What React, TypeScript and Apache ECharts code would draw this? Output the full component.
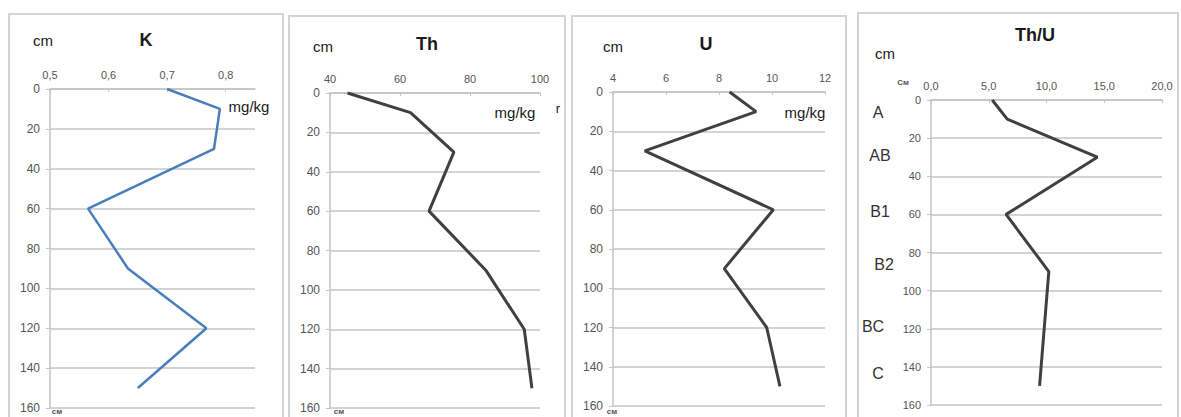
import React, { useEffect, useRef } from "react";
import * as echarts from "echarts";

const depths = [0, 10, 30, 60, 90, 120, 150];
const kValues = [0.7, 0.79, 0.78, 0.565, 0.633, 0.767, 0.65];
const thValues = [45, 63, 75.4, 68.3, 84.5, 95.5, 97.7];
const uValues = [8.4, 9.4, 5.2, 10.05, 8.2, 9.8, 10.3];
const thuValues = [5.3, 6.6, 14.4, 6.5, 10.2, 9.8, 9.4];
const depthTicks = { min: 0, max: 160, interval: 20 };
const horizons = ["A", "AB", "B1", "B2", "BC", "C"];
const titles = ["K", "Th", "U", "Th/U"];

const GRAY = "#c4c4c4";
const LABEL = "#555555";
const FONT = "Liberation Sans, Arial, sans-serif";

export default function App() {
  const ref = useRef<HTMLDivElement>(null);
  useEffect(() => {
    if (!ref.current) return;
    const chart = echarts.init(ref.current, null, { renderer: "svg" });

    const grids = [
      { left: 50, top: 89, width: 205, height: 319 },
      { left: 330, top: 93, width: 210, height: 315 },
      { left: 613, top: 92, width: 212, height: 314 },
      { left: 931, top: 100, width: 231, height: 305 },
    ];
    const xDefs = [
      { min: 0.5, max: 0.85, interval: 0.1, fmt: (v: number) => v.toFixed(1).replace(".", ",") },
      { min: 40, max: 100, interval: 20, fmt: (v: number) => String(v) },
      { min: 4, max: 12, interval: 2, fmt: (v: number) => String(v) },
      { min: 0, max: 20, interval: 5, fmt: (v: number) => v.toFixed(1).replace(".", ",") },
    ];
    const seriesValues = [kValues, thValues, uValues, thuValues];
    const colors = ["#4a7ebb", "#404040", "#404040", "#404040"];

    const xAxis = xDefs.map((d, i) => ({
      gridIndex: i,
      type: "value",
      position: "top",
      min: d.min,
      max: d.max,
      interval: d.interval,
      axisLine: { show: true, lineStyle: { color: GRAY, width: 1.5 } },
      axisTick: { show: true, inside: true, length: 3, lineStyle: { color: GRAY } },
      axisLabel: {
        color: LABEL,
        fontSize: 11,
        fontFamily: FONT,
        margin: 9,
        formatter: d.fmt,
        showMaxLabel: i === 0 ? false : true,
      },
      splitLine: { show: false },
    }));
    const yAxis = grids.map((_, i) => ({
      gridIndex: i,
      type: "value",
      inverse: true,
      min: depthTicks.min,
      max: depthTicks.max,
      interval: depthTicks.interval,
      axisLine: { show: true, lineStyle: { color: GRAY, width: 1.5 } },
      axisTick: { show: true, length: 4, lineStyle: { color: GRAY } },
      axisLabel: { color: LABEL, fontSize: i === 3 ? 11 : 12, fontFamily: FONT, margin: 10 },
      splitLine: { show: true, lineStyle: { color: GRAY, width: 1.5 } },
    }));
    const series = seriesValues.map((vals, i) => ({
      type: "line",
      xAxisIndex: i,
      yAxisIndex: i,
      data: vals.map((v, j) => [v, depths[j]]),
      showSymbol: false,
      symbol: "none",
      lineStyle: { color: colors[i], width: i === 0 ? 2.5 : 3 },
      silent: true,
    }));

    const panels = [
      { x: 9, y: 14, w: 274, h: 420 },
      { x: 289, y: 16, w: 276, h: 420 },
      { x: 572, y: 16, w: 274, h: 420 },
      { x: 858, y: 13, w: 320, h: 420 },
    ];
    const txt = (text: string, x: number, y: number, size: number, opts: any = {}) => ({
      type: "text",
      x,
      y,
      silent: true,
      style: {
        text,
        fontSize: size,
        fontFamily: FONT,
        fill: opts.fill || "#1a1a1a",
        fontWeight: opts.bold ? "bold" : "normal",
        textAlign: opts.align || "center",
        textVerticalAlign: "middle",
      },
    });
    const titlePos = [
      [146, 40],
      [427, 44],
      [706, 44],
      [1035, 35],
    ];
    const horizonPos = [
      [878, 112],
      [880, 155],
      [880, 211],
      [884, 264],
      [873, 326],
      [878, 373],
    ];
    const graphic: any[] = [
      ...panels.map((p) => ({
        type: "rect",
        shape: { x: p.x, y: p.y, width: p.w, height: p.h },
        silent: true,
        style: { fill: "none", stroke: "#d4d4d4", lineWidth: 2 },
      })),
      ...titles.map((t, i) => txt(t, titlePos[i][0], titlePos[i][1], 18, { bold: true })),
      txt("cm", 43, 40, 15),
      txt("cm", 323, 46, 15),
      txt("cm", 613, 46, 15),
      txt("cm", 885, 53, 15),
      txt("mg/kg", 249, 106, 15),
      txt("mg/kg", 515, 112, 15),
      txt("mg/kg", 805, 112, 15),
      txt("r", 558, 108, 13),
      txt("См", 903, 82, 8, { bold: true, fill: LABEL }),
      txt("см", 57, 411, 8, { bold: true, fill: LABEL }),
      txt("см", 339, 411, 8, { bold: true, fill: LABEL }),
      txt("см", 612, 411, 8, { bold: true, fill: LABEL }),
      ...horizons.map((h, i) => txt(h, horizonPos[i][0], horizonPos[i][1], 16, { fill: "#333" })),
    ];

    chart.setOption({
      animation: false,
      backgroundColor: "#ffffff",
      grid: grids.map((g) => ({ ...g, containLabel: false })),
      xAxis,
      yAxis,
      series,
      graphic,
    });
    return () => chart.dispose();
  }, []);

  return (
    <div
      ref={ref}
      style={{ position: "fixed", left: 0, top: 0, width: 1181, height: 417, background: "#fff" }}
    />
  );
}
